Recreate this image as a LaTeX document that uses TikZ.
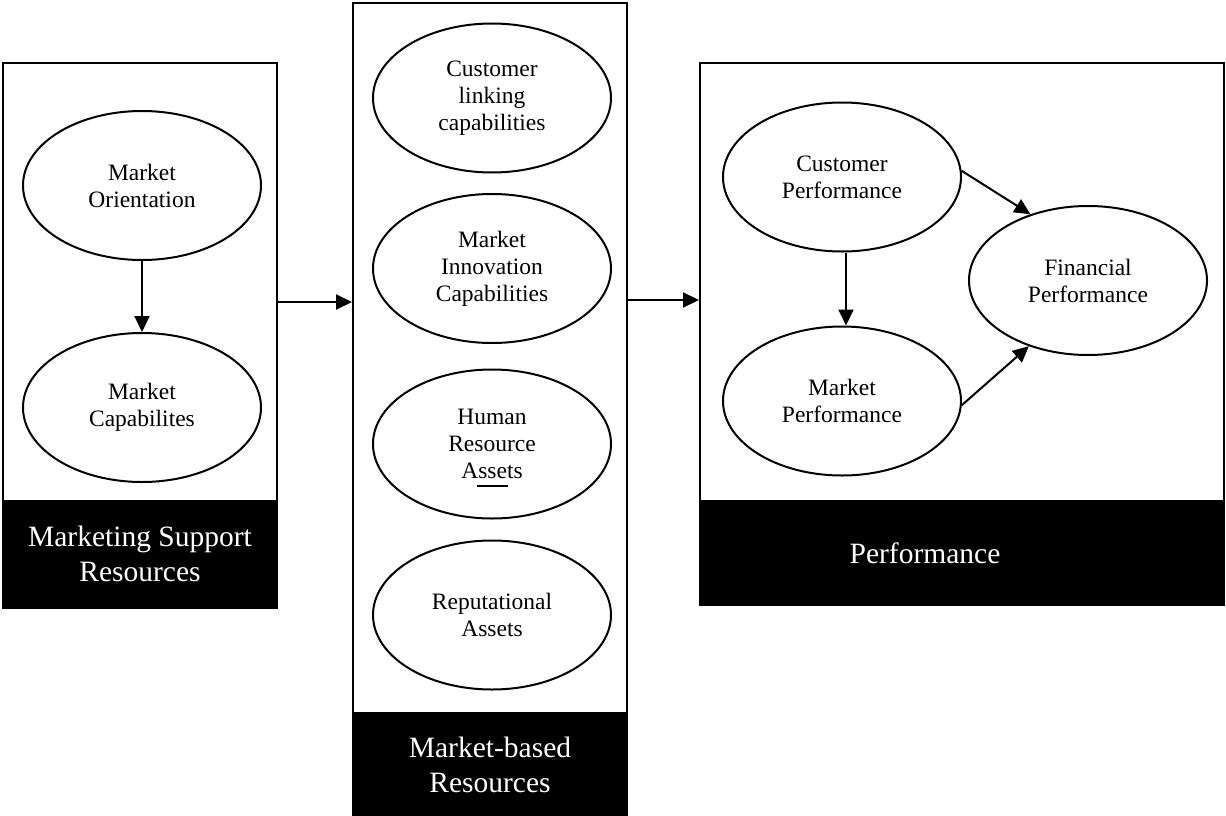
\documentclass[tikz,border=0pt]{standalone}
\usepackage{fontspec}
\setmainfont{Liberation Serif}
\usetikzlibrary{shapes.geometric,arrows.meta}
\begin{document}
\begin{tikzpicture}[x=1pt,y=-1pt,
  oval/.style={draw,line width=2pt,ellipse,minimum width=238pt,minimum height=149pt,inner sep=0pt,align=center,font=\fontsize{23.5}{27}\selectfont},
  panel/.style={draw,line width=2pt,rectangle,inner sep=0pt},
  footer/.style={fill=black,text=white,inner sep=0pt,align=center,font=\fontsize{29.5}{34.5}\selectfont},
  arr/.style={line width=2pt,-{Triangle[length=16pt,width=15pt]}}]
\useasboundingbox (0,0) rectangle (1226,816);
% panels
\node[panel,minimum width=274pt,minimum height=545pt] (LB) at (140,335.5) {};
\node[panel,minimum width=274pt,minimum height=815pt] (MB) at (490,410.5) {};
\node[panel,minimum width=524pt,minimum height=542pt] (RB) at (962,334) {};
% footers
\node[footer,minimum width=276pt,minimum height=108pt] (LF) at (140,554) {Marketing Support\\Resources};
\node[footer,minimum width=276pt,minimum height=106pt] (MF) at (490,765) {Market-based\\Resources};
\node[footer,minimum width=526pt,minimum height=105pt] (RF) at (962,552.5) {};
\node[text=white,inner sep=0pt,font=\fontsize{29.5}{34.5}\selectfont] (RT) at (925,553) {Performance};
% ellipses
\node[oval] (MO) at (142,185.5) {Market\\Orientation};
\node[oval] (MC) at (142,407.5) {Market\\Capabilites};
\node[oval] (CL) at (492,98) {Customer\\linking\\capabilities};
\node[oval] (MI) at (492,268.5) {Market\\Innovation\\Capabilities};
\node[oval] (HR) at (492,444) {Human\\Resource\\Assets};
\node[oval] (RA) at (492,615) {Reputational\\Assets};
\node[oval] (CP) at (842,177) {Customer\\Performance};
\node[oval] (MP) at (842,401) {Market\\Performance};
\node[oval] (FP) at (1088,280.5) {Financial\\Performance};
\draw[line width=1.2pt] (477,486) -- (508,486);
% connectors
\draw[arr] (MO) -- (MC);
\draw[arr] (LB.east |- 0,302) -- (MB.west |- 0,302);
\draw[arr] (MB.east |- 0,300) -- (RB.west |- 0,300);
\draw[arr] ([xshift=4pt]CP.south) -- ([xshift=4pt]MP.north);
\draw[arr] (CP.3) -- (FP.131);
\draw[arr] (MP.-2) -- (FP.228);
\end{tikzpicture}
\end{document}
